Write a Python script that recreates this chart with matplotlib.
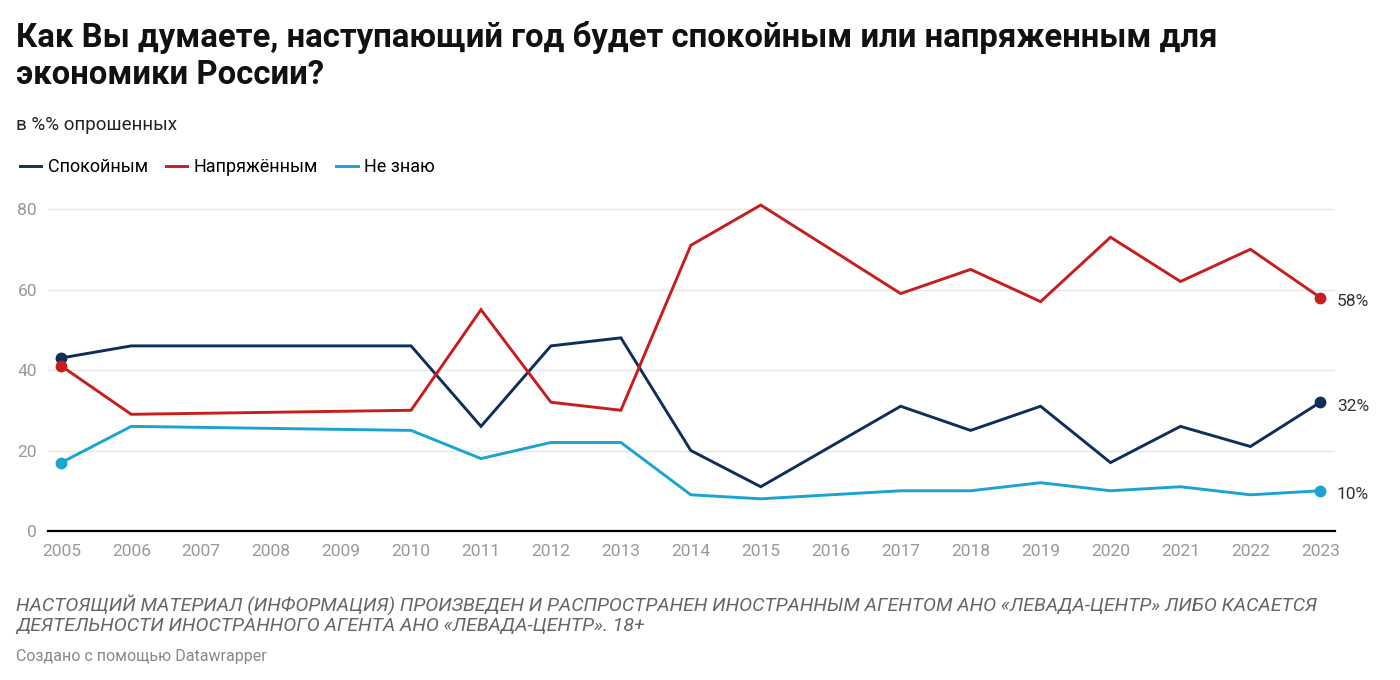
import matplotlib
matplotlib.use('Agg')
import matplotlib.pyplot as plt

plt.rcParams['font.family'] = ['Roboto', 'DejaVu Sans']

years = [2005, 2006, 2010, 2011, 2012, 2013, 2014, 2015, 2017, 2018, 2019, 2020, 2021, 2022, 2023]
calm = [43, 46, 46, 26, 46, 48, 20, 11, 31, 25, 31, 17, 26, 21, 32]
tense = [41, 29, 30, 55, 32, 30, 71, 81, 59, 65, 57, 73, 62, 70, 58]
dont_know = [17, 26, 25, 18, 22, 22, 9, 8, 10, 10, 12, 10, 11, 9, 10]

series_names = ['Спокойным', 'Напряжённым', 'Не знаю']
colors = ['#0f2e5c', '#c71e1d', '#1ba3d1']
tick_years = list(range(2005, 2024))

fig = plt.figure(figsize=(14, 6.8), dpi=100)
ax = fig.add_axes([0.0343, 0.2191, 0.9193, 0.4853])

for vals, name, c in zip([calm, tense, dont_know], series_names, colors):
    ax.plot(years, vals, color=c, lw=2.1, label=name, solid_joinstyle='miter', zorder=3)
    ax.plot([years[0], years[-1]], [vals[0], vals[-1]], 'o', color=c, ms=7.5, zorder=4, clip_on=False)
    ax.annotate(f'{vals[-1]}%', (years[-1], vals[-1]), xytext=(12, -3), textcoords='offset points',
                ha='left', va='center', fontsize=12.5, color='#333333')

ax.set_xlim(2004.81, 2023.21)
ax.set_ylim(0, 82)
ax.set_yticks([0, 20, 40, 60, 80])
ax.set_xticks(tick_years)
ax.grid(axis='y', color='#e6e6e6', lw=1)
ax.set_axisbelow(True)
for s in ['top', 'right', 'left']:
    ax.spines[s].set_visible(False)
ax.spines['bottom'].set_color('#000000')
ax.spines['bottom'].set_linewidth(1.6)
ax.tick_params(axis='both', length=0, labelsize=12.5, labelcolor='#999999')
ax.tick_params(axis='x', pad=9)
ax.tick_params(axis='y', pad=8)

fig.text(0.0114, 0.917, 'Как Вы думаете, наступающий год будет спокойным или напряженным для\nэкономики России?',
         fontsize=23.7, fontweight='bold', color='#111111', va='center', ha='left', linespacing=1.2)
fig.text(0.0114, 0.816, 'в %% опрошенных', fontsize=13.5, color='#222222', va='center')

fig.legend(loc='center left', bbox_to_anchor=(0.0075, 0.754), ncol=3, frameon=False,
           fontsize=13, handlelength=1.2, handletextpad=0.35, columnspacing=1.0, borderpad=0)

fig.text(0.0114, 0.0965, 'НАСТОЯЩИЙ МАТЕРИАЛ (ИНФОРМАЦИЯ) ПРОИЗВЕДЕН И РАСПРОСТРАНЕН ИНОСТРАННЫМ АГЕНТОМ АНО «ЛЕВАДА-ЦЕНТР» ЛИБО КАСАЕТСЯ\nДЕЯТЕЛЬНОСТИ ИНОСТРАННОГО АГЕНТА АНО «ЛЕВАДА-ЦЕНТР». 18+',
         fontsize=14, style='italic', color='#666666', va='center', linespacing=1.15)
fig.text(0.0114, 0.035, 'Создано с помощью Datawrapper', fontsize=11.5, color='#888888', va='center')

fig.savefig('out.png', dpi=100, facecolor='white')
